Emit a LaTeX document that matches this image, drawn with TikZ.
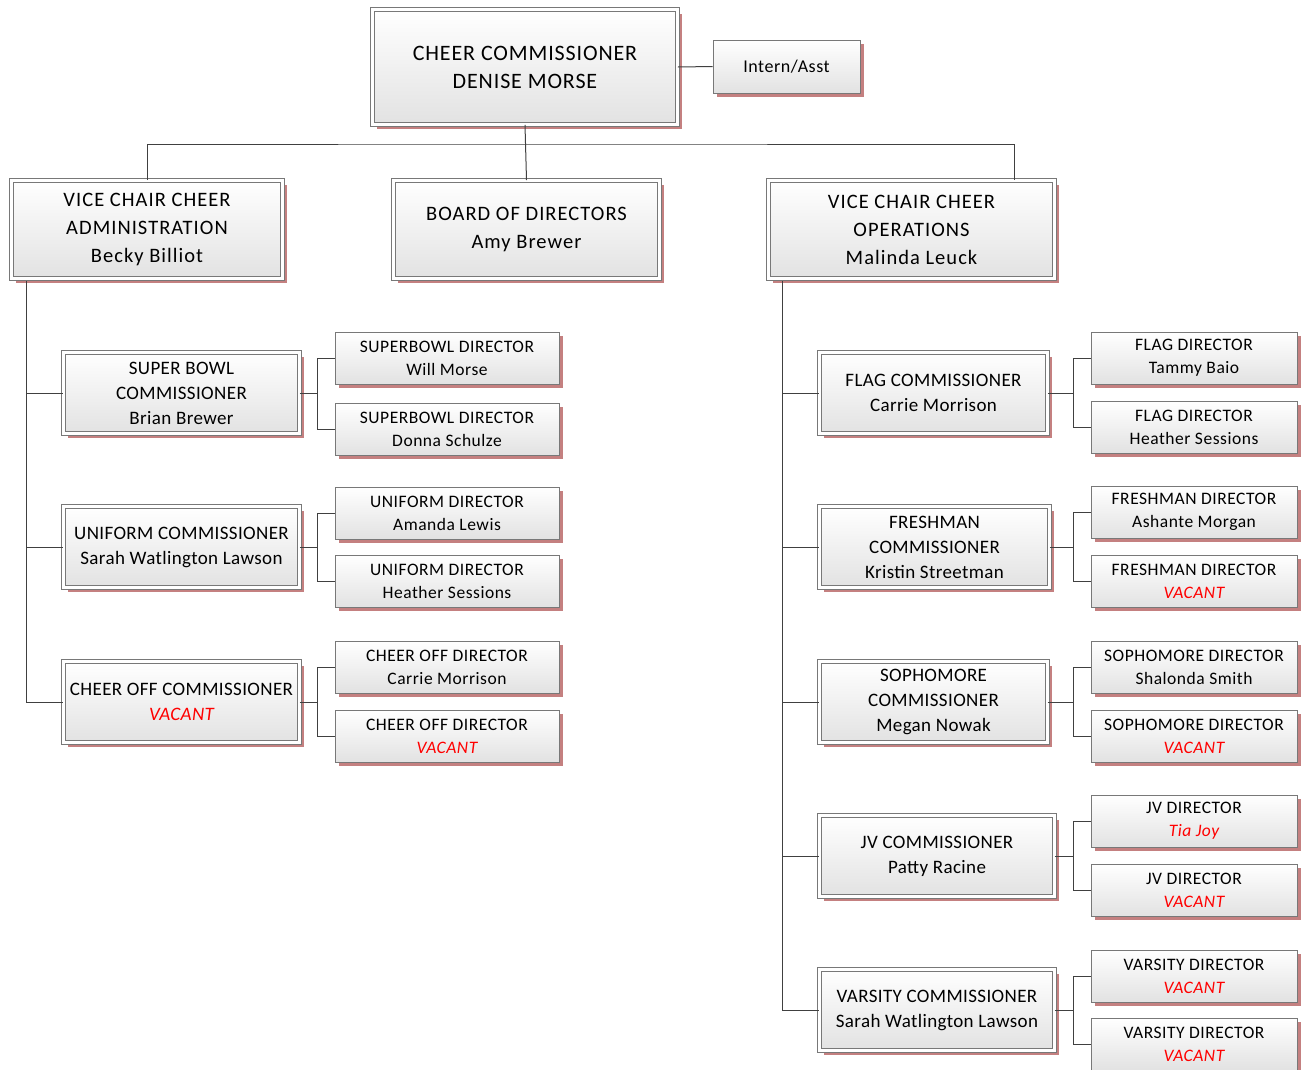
\documentclass[tikz,border=0pt]{standalone}
\usepackage{fontspec}
\setmainfont{Carlito}
\newfontfamily\lsA[LetterSpace=3]{Carlito}
\newfontfamily\lsB[LetterSpace=2]{Carlito}
\newfontfamily\lsC[LetterSpace=5]{Carlito}
\newfontfamily\lsD[LetterSpace=4]{Carlito}
\usetikzlibrary{calc,shadows}
\definecolor{shred}{RGB}{196,128,128}
\definecolor{edgegray}{RGB}{120,120,120}
\definecolor{linegray}{RGB}{64,64,64}
\definecolor{botgray}{RGB}{226,226,226}
\newcommand{\vac}{{\color{red}\itshape VACANT}}
\begin{document}
\begin{tikzpicture}[x=1pt,y=-1pt,
  base/.style={rectangle, align=center, inner sep=0pt, top color=white, bottom color=botgray,
     drop shadow={shadow xshift=4pt, shadow yshift=-4pt, fill=shred, opacity=1}},
  commbox/.style={base, draw=edgegray, double=white, double distance=2.6pt, line width=0.8pt},
  dirbox/.style={base, draw=edgegray, line width=0.9pt, minimum width=206pt, minimum height=52pt, font=\lsA\fontsize{17.5}{23}\selectfont},
  ldir/.style={dirbox, minimum width=224pt},
  lcomm/.style={commbox, minimum width=236pt, minimum height=81pt, font=\lsB\fontsize{19}{25}\selectfont},
  vcbox/.style={commbox, minimum height=98pt, font=\lsC\fontsize{20.5}{28}\selectfont},
  conn/.style={draw=linegray, line width=1pt}]
\useasboundingbox (0,0) rectangle (1301,1069);
% top level
\node[commbox, minimum width=305pt, minimum height=115pt, font=\lsD\fontsize{22}{28}\selectfont] (top) at (525,67) {CHEER COMMISSIONER\\DENISE MORSE};
\node[dirbox, minimum width=147pt, minimum height=53pt, font=\lsA\fontsize{18}{20}\selectfont] (intern) at (786.5,66.5) {Intern/Asst};
\node[vcbox, minimum width=271pt] (vca) at (147,229.5) {VICE CHAIR CHEER\\ADMINISTRATION\\Becky Billiot};
\node[vcbox, minimum width=266pt] (board) at (526.5,229.5) {BOARD OF DIRECTORS\\Amy Brewer};
\node[vcbox, minimum width=286pt] (vco) at (911.5,229.5) {VICE CHAIR CHEER\\OPERATIONS\\Malinda Leuck};
% left commissioners
\node[lcomm] (sb) at (181.5,393) {SUPER BOWL\\COMMISSIONER\\Brian Brewer};
\node[lcomm] (uni) at (181.5,547) {UNIFORM COMMISSIONER\\Sarah Watlington Lawson};
\node[lcomm] (co) at (181.5,702) {CHEER OFF COMMISSIONER\\\vac};
% left directors
\node[ldir] (sbd1) at (447,358) {SUPERBOWL DIRECTOR\\Will Morse};
\node[ldir] (sbd2) at (447,429) {SUPERBOWL DIRECTOR\\Donna Schulze};
\node[ldir] (unid1) at (447,513) {UNIFORM DIRECTOR\\Amanda Lewis};
\node[ldir] (unid2) at (447,581) {UNIFORM DIRECTOR\\Heather Sessions};
\node[ldir] (cod1) at (447,667) {CHEER OFF DIRECTOR\\Carrie Morrison};
\node[ldir] (cod2) at (447,736) {CHEER OFF DIRECTOR\\\vac};
% right commissioners
\node[lcomm, minimum width=228pt] (flag) at (933.5,393) {FLAG COMMISSIONER\\Carrie Morrison};
\node[lcomm, minimum width=230pt] (fr) at (934.5,547) {FRESHMAN\\COMMISSIONER\\Kristin Streetman};
\node[lcomm, minimum width=228pt] (so) at (933.5,702) {SOPHOMORE\\COMMISSIONER\\Megan Nowak};
\node[lcomm, minimum width=235pt] (jv) at (937,856) {JV COMMISSIONER\\Patty Racine};
\node[lcomm, minimum width=235pt] (va) at (937,1010) {VARSITY COMMISSIONER\\Sarah Watlington Lawson};
% right directors
\node[dirbox] (fd1) at (1194,358) {FLAG DIRECTOR\\Tammy Baio};
\node[dirbox] (fd2) at (1194,427) {FLAG DIRECTOR\\Heather Sessions};
\node[dirbox] (frd1) at (1194,512) {FRESHMAN DIRECTOR\\Ashante Morgan};
\node[dirbox] (frd2) at (1194,581) {FRESHMAN DIRECTOR\\\vac};
\node[dirbox] (sod1) at (1194,667) {SOPHOMORE DIRECTOR\\Shalonda Smith};
\node[dirbox] (sod2) at (1194,736) {SOPHOMORE DIRECTOR\\\vac};
\node[dirbox] (jvd1) at (1194,821) {JV DIRECTOR\\{\color{red}\itshape Tia Joy}};
\node[dirbox] (jvd2) at (1194,890) {JV DIRECTOR\\\vac};
\node[dirbox] (vad1) at (1194,976) {VARSITY DIRECTOR\\\vac};
\node[dirbox] (vad2) at (1194,1044) {VARSITY DIRECTOR\\\vac};
% connectors
\draw[conn] (top.east) -- (intern.west);
\draw[conn] (top.south) -- (board.north);
\coordinate (bus) at (525,144);
\draw[conn] (vca.north) |- (bus) -| ([xshift=102.5pt]vco.north);
\coordinate (lt) at ([xshift=-121pt,yshift=-2.5pt]vca.south);
\foreach \c in {sb,uni,co} \draw[conn] (lt) |- (\c.west);
\coordinate (rt) at ([xshift=-129.5pt,yshift=-2.5pt]vco.south);
\foreach \c in {flag,fr,so,jv,va} \draw[conn] (rt) |- (\c.west);
\newcommand{\branch}[3]{%
  \draw[conn] (#1.east) -| ($(#2.west)+(-17,0)$) -- (#2.west);
  \draw[conn] (#1.east) -| ($(#3.west)+(-17,0)$) -- (#3.west);}
\branch{sb}{sbd1}{sbd2}
\branch{uni}{unid1}{unid2}
\branch{co}{cod1}{cod2}
\branch{flag}{fd1}{fd2}
\branch{fr}{frd1}{frd2}
\branch{so}{sod1}{sod2}
\branch{jv}{jvd1}{jvd2}
\branch{va}{vad1}{vad2}
\end{tikzpicture}
\end{document}
